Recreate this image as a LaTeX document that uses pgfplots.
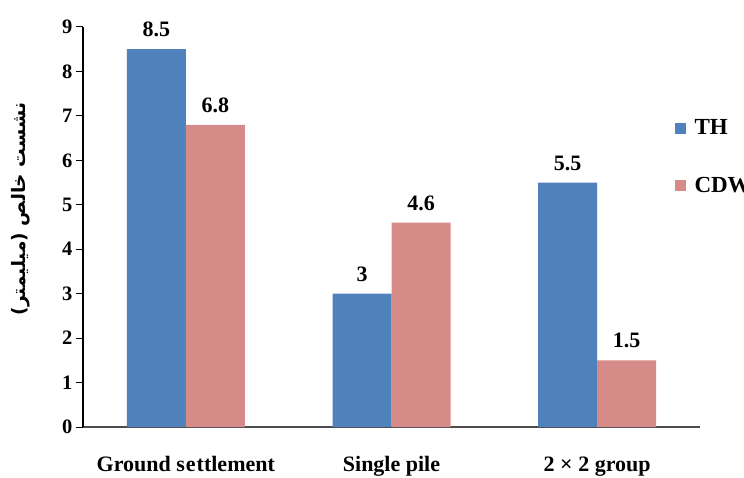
\documentclass[border=0pt]{standalone}
\usepackage{fontspec}
\setmainfont{Liberation Serif}
\newfontfamily\arabicfont[Script=Arabic]{DejaVu Sans}
\TeXXeTstate=1
\usepackage{pgfplots}
\pgfplotsset{compat=1.18}
\definecolor{thblue}{HTML}{4F81BD}
\definecolor{cdwpink}{HTML}{D78B89}
\begin{document}
\begin{tikzpicture}
\begin{axis}[
  at={(0,0)}, anchor=south west,
  scale only axis, width=617pt, height=400pt,
  ybar=0pt, bar width=59pt,
  xmin=-0.5, xmax=2.5, ymin=0, ymax=9,
  xtick=data,
  xticklabels={Ground s\kern1pt e\kern1pt ttlement, Single pile, 2 × 2 group},
  x tick label style={font=\fontsize{22}{24}\selectfont\bfseries, yshift=-19pt},
  ytick={0,1,...,9},
  y tick label style={font=\fontsize{20.5}{24}\selectfont\bfseries},
  /pgf/number format/assume math mode=true,
  axis x line*=bottom, axis y line*=left,
  x axis line style={draw=black!70, line width=1.4pt, -},
  y axis line style={draw=black, line width=1.2pt, -},
  xtick style={draw=none},
  ytick style={draw=black, line width=1pt},
  tick align=outside, major tick length=7pt,
  nodes near coords,
  nodes near coords style={font=\fontsize{22}{24}\selectfont\bfseries, black,
    inner sep=0pt, yshift=12pt},
  point meta=explicit symbolic,
  legend cell align=left,
  legend style={at={(0.9535,0.675)}, anchor=west, draw=none, fill=none,
    font=\fontsize{23}{26}\selectfont\bfseries, row sep=39pt, column sep=8pt,
    nodes={inner sep=1pt}},
  legend image code/.code={\fill (0pt,-5.5pt) rectangle (11pt,5.5pt);},
  clip=false,
]
\addplot[fill=thblue, draw=none] coordinates {(0,8.5)[8.5] (1,3)[3] (2,5.5)[5.5]};
\addplot[fill=cdwpink, draw=none] coordinates {(0,6.8)[6.8] (1,4.6)[4.6] (2,1.5)[1.5]};
\legend{TH, CDW}
\node[rotate=90, font=\fontsize{18.5}{22}\arabicfont\bfseries] at (rel axis cs:-0.101,0.545)
  {\beginR نشست خالص (میلیمتر)\endR};
\end{axis}
\pgfresetboundingbox
\path[use as bounding box] (-83pt,-50pt) rectangle (661pt,427pt);
\end{tikzpicture}
\end{document}
